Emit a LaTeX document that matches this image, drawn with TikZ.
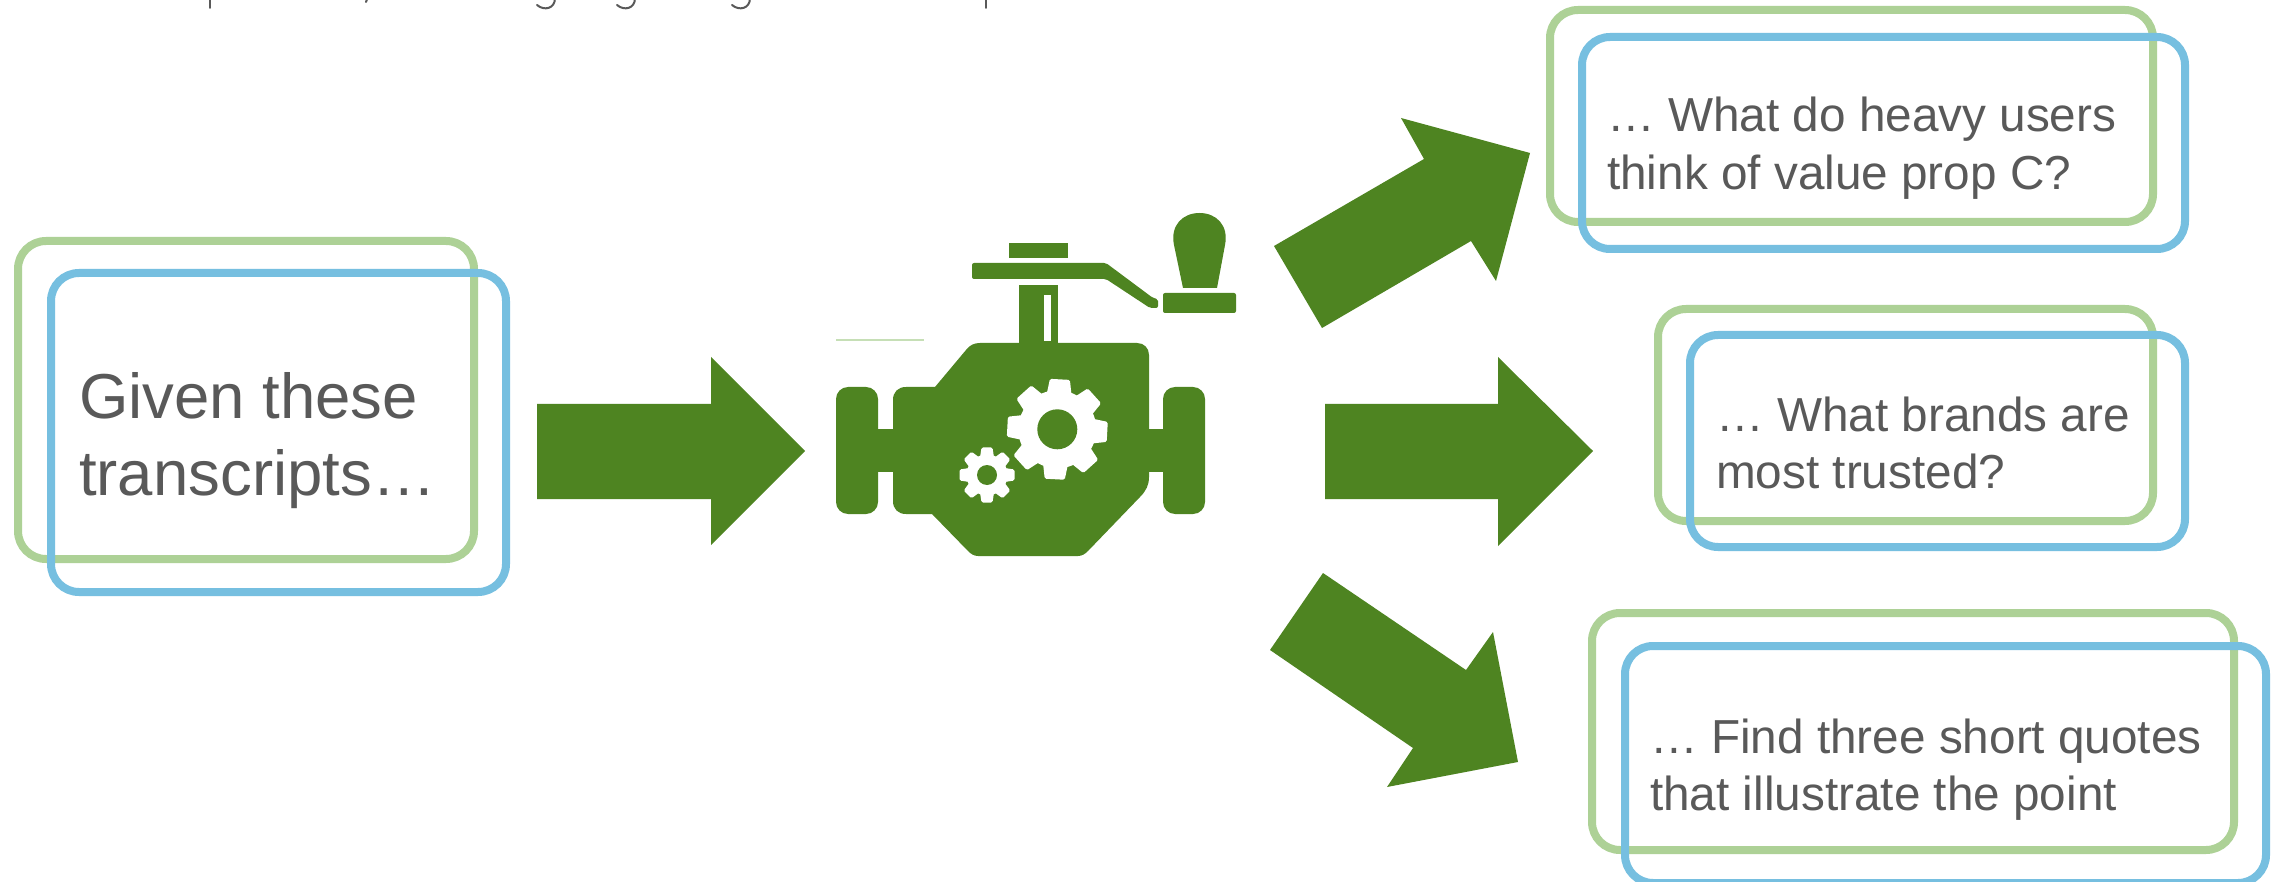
\documentclass[tikz,border=0pt]{standalone}
\usepackage{fontspec}
\setmainfont{Liberation Sans}
\definecolor{arrowgreen}{HTML}{4E8421}
\definecolor{boxgreen}{HTML}{ADD196}
\definecolor{boxblue}{HTML}{76BFE0}
\definecolor{textgrey}{HTML}{595959}
\tikzset{
  greenbox/.style={draw=boxgreen,line width=8pt,rounded corners=28pt},
  bluebox/.style={draw=boxblue,line width=8pt,rounded corners=28pt},
  blockarrow/.style={fill=arrowgreen,draw=none},
  enginepart/.style={fill=arrowgreen,draw=none},
  enginesoft/.style={fill=arrowgreen,draw=none,rounded corners=5pt},
  bigtext/.style={anchor=base west,inner sep=0pt,align=left,text=textgrey,font=\fontsize{63.5}{77}\selectfont},
  smalltext/.style={anchor=base west,inner sep=0pt,align=left,text=textgrey,font=\fontsize{47.7}{57.5}\selectfont},
  cutoff/.style={draw=textgrey,line width=2pt,line cap=round}
}
\newcommand{\enginegear}[5]{% x, y, root radius, tooth tip radius, rotation
  \fill[white] (#1,#2) circle[radius=#3];
  \foreach \a in {0,45,...,315}{
    \fill[white,rounded corners=1.5pt,rotate around={\a+#5:(#1,#2)}]
      (#1-#4*0.26,#2-#3*0.8) -- (#1-#4*0.2,#2-#4) -- (#1+#4*0.2,#2-#4) -- (#1+#4*0.26,#2-#3*0.8) -- cycle;
  }
}
\begin{document}
\begin{tikzpicture}[x=1pt,y=-1pt]
\clip (0,0) rectangle (2279,882);
\fill[white] (0,0) rectangle (2279,882);

% remains of the line of text cut off at the top edge
\draw[cutoff] (210,-2) -- (210,8);
\draw[cutoff] (367.5,-2) -- (366,2);
\draw[cutoff] (555,-2) .. controls (555,9) and (544,11) .. (537,5);
\draw[cutoff] (635,-2) .. controls (635,9) and (624,11) .. (617,5);
\draw[cutoff] (750,-2) .. controls (750,9) and (739,11) .. (732,5);
\draw[cutoff] (986,-2) -- (986,8);

% left pair of boxes
\draw[greenbox] (18,241) rectangle (474,559);
\draw[bluebox] (51,273) rectangle (506,592);
\node[bigtext] (given) at (79,495) {Given these\\transcripts…};

% top pair
\draw[greenbox] (1550,10) rectangle (2153,222);
\draw[bluebox] (1582,37) rectangle (2185,249);
\node[smalltext] (heavy) at (1607,189.5) {… What do heavy users\\think of value prop C?};

% middle pair
\draw[greenbox] (1658,309) rectangle (2153,521);
\draw[bluebox] (1690,335) rectangle (2185,547);
\node[smalltext] (brands) at (1716,488.5) {… What brands are\\most trusted?};

% bottom pair
\draw[greenbox] (1592,613) rectangle (2234,850);
\draw[bluebox] (1625,646) rectangle (2266,883);
\node[smalltext] (quotes) at (1650,810.5) {… Find three short quotes\\that illustrate the point};

% block arrows
\fill[blockarrow] (537,404) -- (711,404) -- (711,357) -- (805,451) -- (711,545) -- (711,499) -- (537,499) -- cycle;
\fill[blockarrow] (1325,404) -- (1498,404) -- (1498,357) -- (1593,451) -- (1498,546) -- (1498,499) -- (1325,499) -- cycle;
\fill[blockarrow] (1274,246) -- (1424,159) -- (1401,118) -- (1530,153) -- (1496,281) -- (1471,241) -- (1322,328) -- cycle;
\fill[blockarrow] (1323,573) -- (1466,670) -- (1493,632) -- (1518,762) -- (1387,787) -- (1413,748) -- (1270,650) -- cycle;

% engine icon
\draw[boxgreen!70!white,line width=1.5pt] (836,340) -- (924,340);
\fill[enginesoft,rounded corners=12pt] (836,387) rectangle (878,514);
\fill[enginesoft,rounded corners=12pt] (1163,387) rectangle (1205,514);
\fill[enginepart] (870,429) rectangle (900,472);
\fill[enginepart] (1140,429) rectangle (1170,472);
\fill[arrowgreen] (893,400) .. controls (893,392) and (898,387) .. (906,387) -- (935,387) -- (966,350) .. controls (970,345) and (974,343) .. (980,343) -- (1137,343) .. controls (1144,343) and (1149,348) .. (1149,355) -- (1149,477) .. controls (1149,485) and (1146,491) .. (1140,497) -- (1088,551) .. controls (1085,554) and (1082,556) .. (1078,556) -- (978,556) .. controls (974,556) and (971,554) .. (968,551) -- (932,514) -- (906,514) .. controls (898,514) and (893,509) .. (893,501) -- cycle;
\fill[enginepart] (1019,285) rectangle (1058,343);
\fill[white] (1044,295) rectangle (1050.5,341);
\fill[enginepart] (1009,243) rectangle (1068,258);
\fill[enginesoft,rounded corners=2pt] (972,263) -- (1106,263) -- (1153,298) -- (1158,299) -- (1158,308) -- (1150,308) -- (1106,279) -- (972,279) -- cycle;
\fill[enginesoft,rounded corners=2pt] (1163,293) rectangle (1236,313);
\fill[enginepart] (1183,288) -- (1174,245) .. controls (1170,225) and (1183,213) .. (1199.5,213) .. controls (1216,213) and (1229,225) .. (1225,245) -- (1217,288) -- cycle;

\enginegear{1057.3}{429.3}{39}{50}{-3}
\fill[arrowgreen] (1057.3,429.3) circle[radius=20];
\enginegear{987}{475}{20.5}{27.5}{0}
\fill[arrowgreen] (987,475) circle[radius=10];
\end{tikzpicture}
\end{document}
